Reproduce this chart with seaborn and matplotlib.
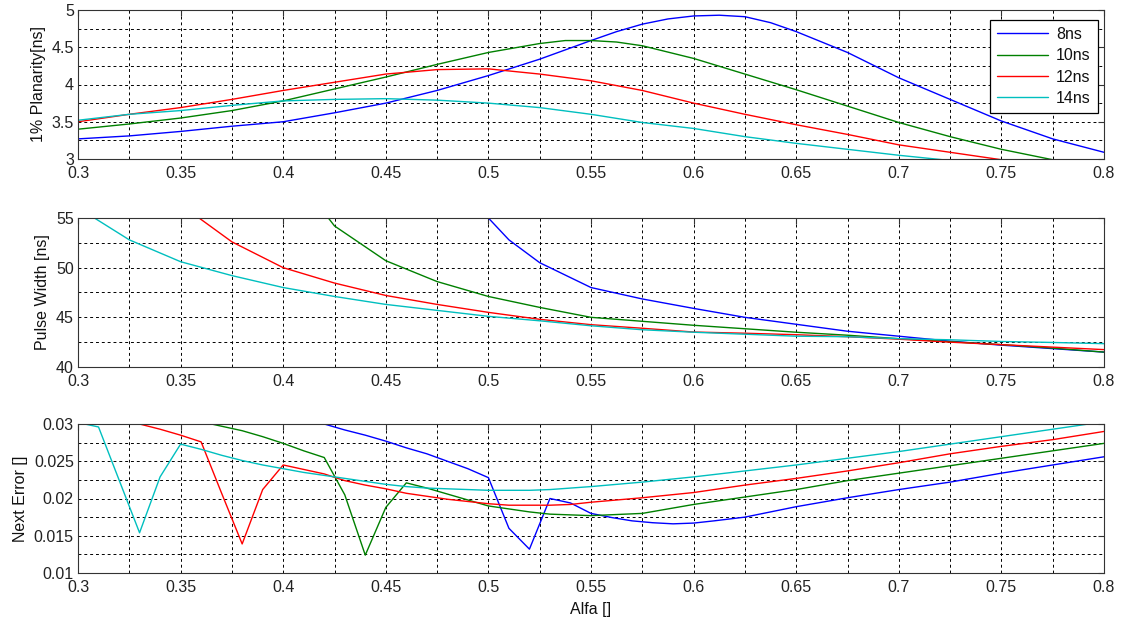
import numpy as np
import pandas as pd
import matplotlib
matplotlib.use("Agg")
import matplotlib.pyplot as plt
from matplotlib.ticker import MultipleLocator, FuncFormatter
import seaborn as sns

# ---- data -------------------------------------------------------------
series_names = ["8ns", "10ns", "12ns", "14ns"]
series_colors = ["#0000ff", "#008000", "#ff0000", "#00bfbf"]

# 1% planarity [ns] vs alfa
alfa_plan = [0.300, 0.325, 0.350, 0.375, 0.400, 0.425, 0.450, 0.475, 0.500, 0.525,
             0.550, 0.575, 0.600, 0.625, 0.650, 0.675, 0.700, 0.725, 0.750, 0.775, 0.800]
alfa_plan_8ns = [0.300, 0.325, 0.350, 0.375, 0.400, 0.425, 0.450, 0.475, 0.500, 0.525,
                 0.550, 0.5625, 0.575, 0.5875, 0.600, 0.6125, 0.625, 0.6375, 0.650,
                 0.675, 0.700, 0.725, 0.750, 0.775, 0.800]
plan_8ns = [3.27, 3.31, 3.37, 3.44, 3.50, 3.62, 3.75, 3.92, 4.12, 4.34,
            4.59, 4.71, 4.81, 4.88, 4.92, 4.93, 4.91, 4.83, 4.71,
            4.43, 4.09, 3.80, 3.51, 3.27, 3.09]
alfa_plan_10ns = [0.300, 0.325, 0.350, 0.375, 0.400, 0.425, 0.450, 0.475, 0.500, 0.525,
                  0.5375, 0.550, 0.5625, 0.575, 0.600, 0.625, 0.650, 0.675, 0.700,
                  0.725, 0.750, 0.775, 0.800]
plan_10ns = [3.40, 3.47, 3.55, 3.65, 3.78, 3.94, 4.10, 4.27, 4.43, 4.55,
             4.59, 4.59, 4.57, 4.52, 4.35, 4.14, 3.93, 3.71, 3.49,
             3.30, 3.13, 2.99, 2.87]
plan_12ns = [3.50, 3.60, 3.69, 3.80, 3.92, 4.03, 4.14, 4.20, 4.21, 4.14,
             4.05, 3.92, 3.75, 3.60, 3.46, 3.33, 3.19, 3.09, 2.99, 2.90, 2.82]
plan_14ns = [3.52, 3.60, 3.65, 3.72, 3.78, 3.80, 3.81, 3.79, 3.75, 3.69,
             3.60, 3.49, 3.41, 3.30, 3.21, 3.13, 3.05, 2.98, 2.90, 2.83, 2.76]

# pulse width [ns] vs alfa (each curve enters from the top of the range)
alfa_pw_8ns = [0.500, 0.510, 0.525, 0.550, 0.575, 0.600, 0.625, 0.650, 0.675,
               0.700, 0.725, 0.750, 0.775, 0.800]
pw_8ns = [55.0, 52.8, 50.5, 48.0, 46.85, 45.9, 45.0, 44.3, 43.6,
          43.1, 42.6, 42.2, 41.85, 41.5]
alfa_pw_10ns = [0.422, 0.425, 0.450, 0.475, 0.500, 0.525, 0.550, 0.575, 0.600,
                0.625, 0.650, 0.675, 0.700, 0.725, 0.750, 0.775, 0.800]
pw_10ns = [55.0, 54.2, 50.7, 48.6, 47.1, 46.0, 45.0, 44.6, 44.2,
           43.85, 43.5, 43.2, 42.85, 42.55, 42.25, 41.9, 41.5]
alfa_pw_12ns = [0.359, 0.375, 0.400, 0.425, 0.450, 0.475, 0.500, 0.525, 0.550,
                0.575, 0.600, 0.625, 0.650, 0.675, 0.700, 0.725, 0.750, 0.775, 0.800]
pw_12ns = [55.0, 52.6, 50.0, 48.45, 47.2, 46.3, 45.5, 44.8, 44.26,
           43.9, 43.52, 43.4, 43.25, 43.05, 42.8, 42.5, 42.25, 42.0, 41.75]
alfa_pw_14ns = [0.308, 0.325, 0.350, 0.375, 0.400, 0.425, 0.450, 0.475, 0.500,
                0.525, 0.550, 0.575, 0.600, 0.625, 0.650, 0.675, 0.700, 0.725,
                0.750, 0.775, 0.800]
pw_14ns = [55.0, 52.8, 50.6, 49.2, 48.0, 47.1, 46.3, 45.7, 45.1,
           44.65, 44.15, 43.75, 43.5, 43.3, 43.1, 43.05, 42.85, 42.74,
           42.57, 42.47, 42.35]

# next error [] vs alfa
alfa_err = [0.30, 0.31, 0.32, 0.33, 0.34, 0.35, 0.36, 0.37, 0.38, 0.39,
            0.40, 0.41, 0.42, 0.43, 0.44, 0.45, 0.46, 0.47, 0.48, 0.49,
            0.50, 0.51, 0.52, 0.53, 0.54, 0.55, 0.575, 0.60, 0.625, 0.65,
            0.675, 0.70, 0.725, 0.75, 0.775, 0.80]
nan = np.nan
alfa_err_8ns = [0.42, 0.43, 0.44, 0.45, 0.46, 0.47, 0.48, 0.49,
                0.50, 0.51, 0.52, 0.53, 0.54, 0.55, 0.56, 0.57, 0.58, 0.59,
                0.60, 0.61, 0.625, 0.65, 0.675, 0.70, 0.725, 0.75, 0.775, 0.80]
err_8ns = [0.0300, 0.0292, 0.0285, 0.0277, 0.0268, 0.0260, 0.0250, 0.0240,
           0.0228, 0.0160, 0.0132, 0.0200, 0.0194, 0.0180, 0.01745, 0.0170, 0.01675, 0.0166,
           0.0167, 0.0170, 0.0175, 0.0189, 0.0201, 0.0212, 0.0222, 0.0234, 0.0245, 0.0256]
err_10ns = [nan, nan, nan, nan, nan, nan, 0.0303, 0.0297, 0.0291, 0.0283,
            0.0274, 0.0264, 0.0255, 0.0205, 0.0124, 0.0188, 0.0221, 0.0214, 0.0206, 0.0198,
            0.0190, 0.0186, 0.0182, 0.0179, 0.0178, 0.0177, 0.0180, 0.0192, 0.0202, 0.0212,
            0.0224, 0.0234, 0.0244, 0.0254, 0.0264, 0.0274]
err_12ns = [nan, nan, nan, 0.0300, 0.0293, 0.0285, 0.0276, 0.0207, 0.0139, 0.0212,
            0.0245, 0.0239, 0.0233, 0.0224, 0.0218, 0.0213, 0.0207, 0.0203, 0.0199, 0.0196,
            0.0193, 0.0191, 0.0191, 0.0191, 0.0192, 0.0195, 0.0201, 0.0208, 0.0218, 0.0227,
            0.0237, 0.0248, 0.0260, 0.0270, 0.0279, 0.0290]
err_14ns = [0.0302, 0.0296, 0.0225, 0.0154, 0.0229, 0.0273, 0.0266, 0.0258, 0.0251, 0.0245,
            0.0240, 0.0235, 0.0231, 0.0227, 0.0223, 0.0219, 0.0216, 0.0214, 0.0213, 0.0212,
            0.0211, 0.0211, 0.0211, 0.0212, 0.0214, 0.0216, 0.0222, 0.0229, 0.0237, 0.0245,
            0.0254, 0.0263, 0.0273, 0.0283, 0.0293, 0.0303]


def long_frame(pairs):
    frames = []
    for name, (xs, ys) in zip(series_names, pairs):
        frames.append(pd.DataFrame({"alfa": xs, "value": ys, "pulse": name}))
    return pd.concat(frames, ignore_index=True).dropna()


df_plan = long_frame([(alfa_plan_8ns, plan_8ns), (alfa_plan_10ns, plan_10ns),
                      (alfa_plan, plan_12ns), (alfa_plan, plan_14ns)])
df_pw = long_frame([(alfa_pw_8ns, pw_8ns), (alfa_pw_10ns, pw_10ns),
                    (alfa_pw_12ns, pw_12ns), (alfa_pw_14ns, pw_14ns)])
df_err = long_frame([(alfa_err_8ns, err_8ns), (alfa_err, err_10ns),
                     (alfa_err, err_12ns), (alfa_err, err_14ns)])

# ---- style ------------------------------------------------------------
sns.set_style("white")
plt.rcParams["font.family"] = ["Liberation Sans", "DejaVu Sans"]
plt.rcParams["font.size"] = 11.5
plt.rcParams["axes.linewidth"] = 0.8
plt.rcParams["axes.edgecolor"] = "#333333"
plt.rcParams["text.color"] = "#111111"
plt.rcParams["axes.labelcolor"] = "#111111"

W, H = 1124, 619
fig = plt.figure(figsize=(W / 100, H / 100), dpi=100)
fig.patch.set_facecolor("white")

left_px, right_px = 78, 1104
panel_px = [(10, 159), (218, 367), (424, 573)]
axes = []
for top, bot in panel_px:
    ax = fig.add_axes([left_px / W, (H - bot) / H,
                       (right_px - left_px) / W, (bot - top) / H])
    axes.append(ax)

palette = dict(zip(series_names, series_colors))
fmt = FuncFormatter(lambda v, p: "%g" % round(v, 6))

panels = [
    (df_plan, (3, 5), 0.5, "1% Planarity[ns]"),
    (df_pw, (40, 55), 5, "Pulse Width [ns]"),
    (df_err, (0.01, 0.03), 0.005, "Next Error []"),
]

for i, (ax, (df, ylim, ystep, ylabel)) in enumerate(zip(axes, panels)):
    sns.lineplot(data=df, x="alfa", y="value", hue="pulse", hue_order=series_names,
                 palette=palette, estimator=None, sort=False, lw=1.0,
                 ax=ax, legend=(i == 0))
    ax.set_xlim(0.3, 0.8)
    ax.set_ylim(*ylim)
    ax.xaxis.set_major_locator(MultipleLocator(0.05))
    ax.xaxis.set_minor_locator(MultipleLocator(0.025))
    ax.yaxis.set_major_locator(MultipleLocator(ystep))
    ax.yaxis.set_minor_locator(MultipleLocator(ystep / 2))
    ax.xaxis.set_major_formatter(fmt)
    ax.yaxis.set_major_formatter(fmt)
    ax.grid(True, which="both", color="black", lw=0.7, linestyle=(0, (3, 3)))
    ax.set_axisbelow(True)
    ax.tick_params(which="major", direction="in", length=4.5, width=0.8,
                   top=True, right=True, colors="#333333", labelcolor="#222222",
                   labelsize=11.5, pad=5)
    ax.tick_params(axis="y", which="major", pad=3)
    ax.tick_params(which="minor", length=0)
    ax.set_ylabel(ylabel, fontsize=11.5, labelpad=4)
    ax.set_xlabel("")
    for sp in ax.spines.values():
        sp.set_visible(True)
        sp.set_color("#333333")

axes[2].set_xlabel("Alfa []", fontsize=11.5, labelpad=5)

handles, labels = axes[0].get_legend_handles_labels()
leg = axes[0].legend(handles, labels, loc="upper right",
                     bbox_to_anchor=(0.994, 0.935), frameon=True, fancybox=False,
                     framealpha=1, edgecolor="black", fontsize=11.5,
                     handlelength=3.2, handletextpad=0.5, labelspacing=0.4,
                     borderpad=0.45, borderaxespad=0)
leg.get_frame().set_linewidth(0.9)
leg.set_zorder(5)

fig.savefig("out.png", dpi=100, facecolor="white")
